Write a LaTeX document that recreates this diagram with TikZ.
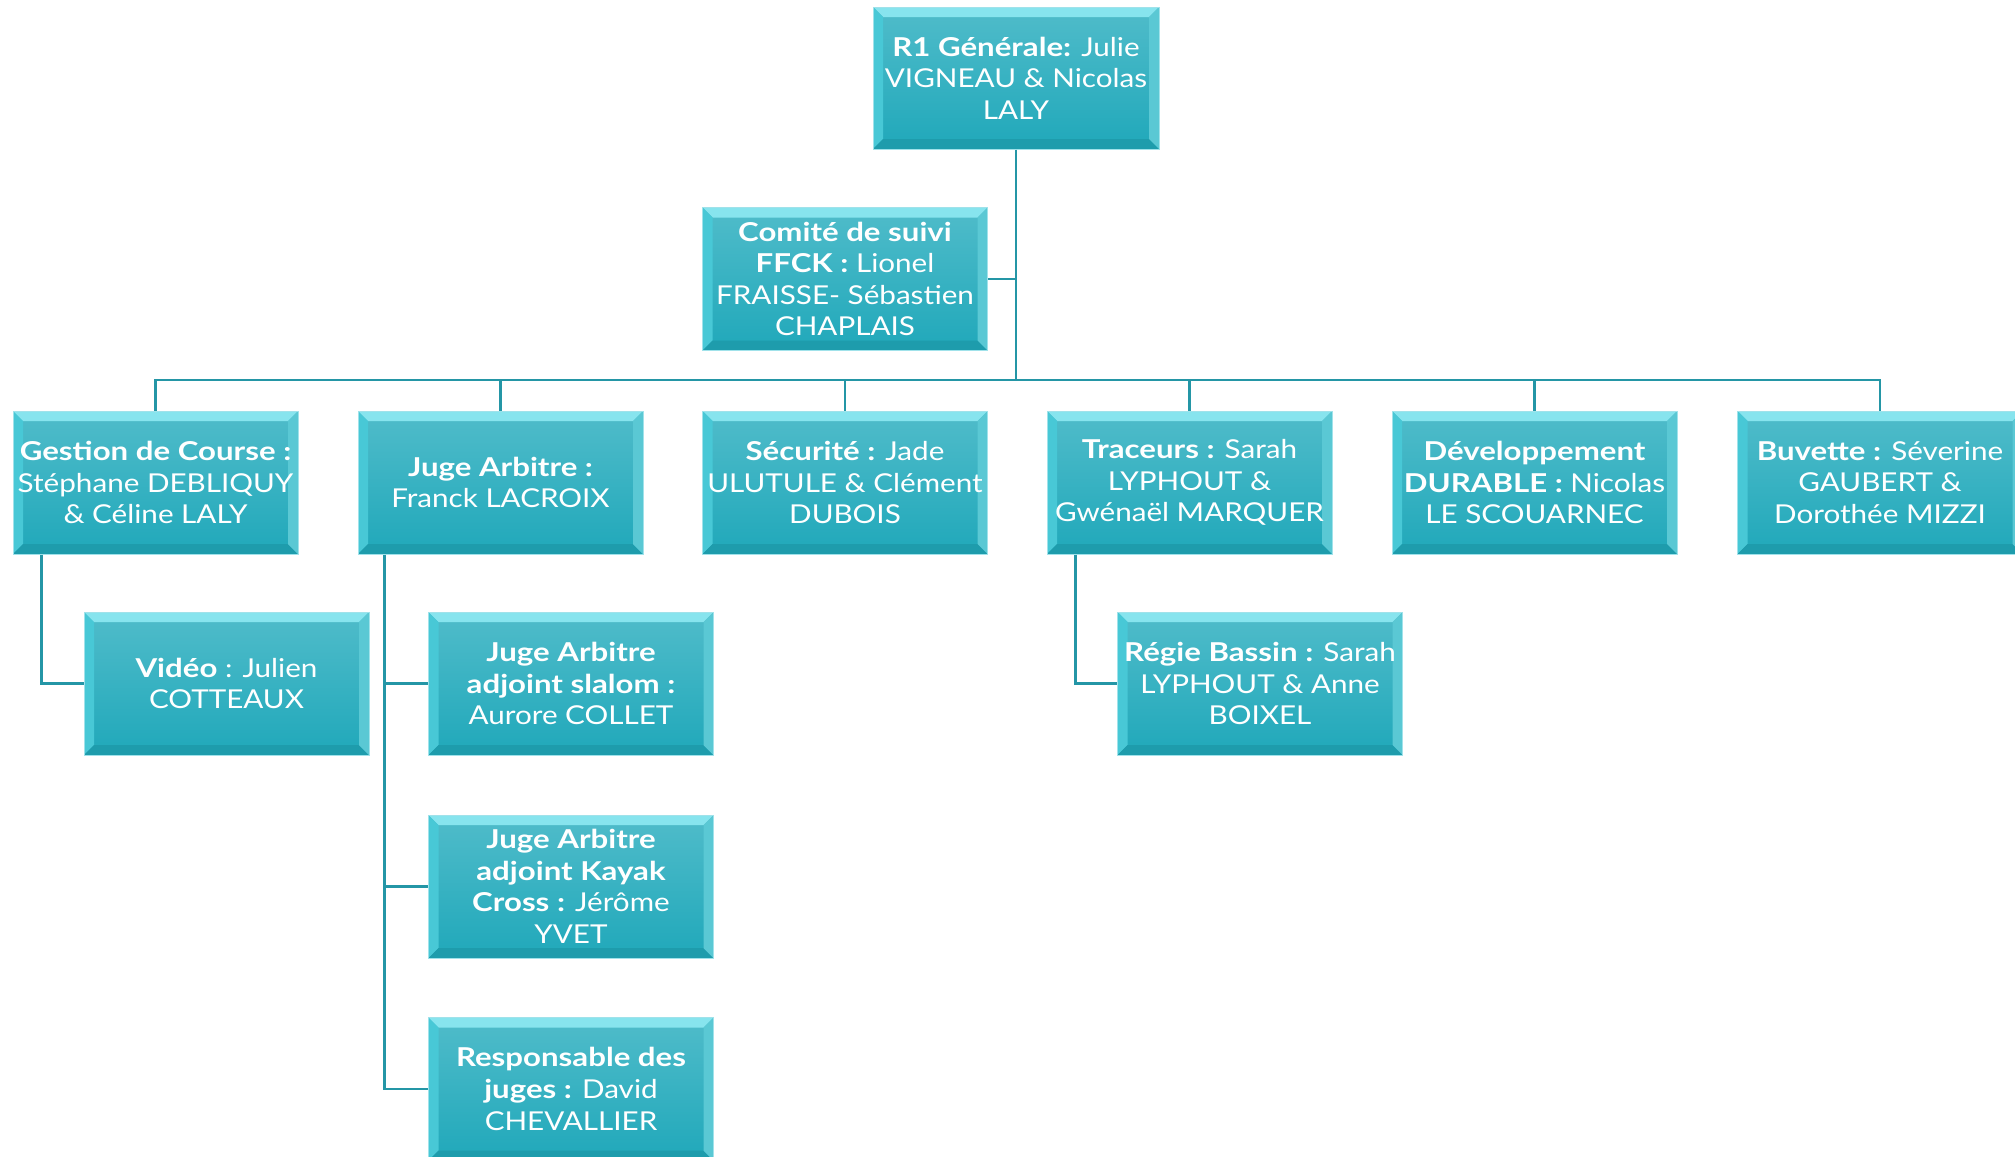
\documentclass[tikz,border=0pt]{standalone}
\usepackage{fontspec}
\setmainfont{Lato}[FakeStretch=1.14, BoldFeatures={FakeStretch=1.2}]
\usetikzlibrary{calc}
\definecolor{boxtop}{RGB}{80,188,202}
\definecolor{boxbot}{RGB}{32,168,186}
\definecolor{bevtop}{RGB}{135,228,238}
\definecolor{bevleft}{RGB}{72,200,214}
\definecolor{bevbot}{RGB}{30,156,172}
\definecolor{bevright}{RGB}{90,200,212}
\definecolor{boxedge}{RGB}{160,226,234}
\definecolor{conncol}{RGB}{36,150,166}
\newcommand{\boxfont}{\fontsize{13}{15.8}\selectfont}
\tikzset{
  orgbox/.style={rectangle, minimum width=142.5pt, minimum height=71.5pt, inner sep=0pt,
    text=white, align=center, font=\boxfont, top color=boxtop, bottom color=boxbot,
    draw=boxedge, line width=0.5pt,
    path picture={
      \coordinate (nw) at (path picture bounding box.north west);
      \coordinate (ne) at (path picture bounding box.north east);
      \coordinate (sw) at (path picture bounding box.south west);
      \coordinate (se) at (path picture bounding box.south east);
      \fill[bevtop] (nw) -- (ne) -- ([xshift=-5pt,yshift=-5pt]ne) -- ([xshift=5pt,yshift=-5pt]nw) -- cycle;
      \fill[bevleft] (nw) -- ([xshift=5pt,yshift=-5pt]nw) -- ([xshift=5pt,yshift=5pt]sw) -- (sw) -- cycle;
      \fill[bevbot] (sw) -- ([xshift=5pt,yshift=5pt]sw) -- ([xshift=-5pt,yshift=5pt]se) -- (se) -- cycle;
      \fill[bevright] (ne) -- (se) -- ([xshift=-5pt,yshift=5pt]se) -- ([xshift=-5pt,yshift=-5pt]ne) -- cycle;
    }},
  conn/.style={draw=conncol, line width=1.4pt}
}
\begin{document}
\begin{tikzpicture}[x=0.5pt,y=-0.5pt]
\useasboundingbox (0,0) rectangle (2015,1157);
% nodes
\node[orgbox, minimum width=143pt, minimum height=71pt] (top) at (1016,78) {\textbf{R1 Générale:} Julie\\VIGNEAU \& Nicolas\\LALY};
\node[orgbox] (comite) at (845,279) {\textbf{Comité de suivi}\\\textbf{FFCK :} Lionel\\FRAISSE- Sébastien\\CHAPLAIS};
\node[orgbox] (gestion) at (155.5,482.5) {\textbf{Gestion de Course :}\\Stéphane DEBLIQUY\\\& Céline LALY};
\node[orgbox] (juge) at (500.5,482.5) {\textbf{Juge Arbitre :}\\Franck LACROIX};
\node[orgbox] (secu) at (845,482.5) {\textbf{Sécurité :} Jade\\ULUTULE \& Clément\\DUBOIS};
\node[orgbox] (traceurs) at (1189.5,482.5) {\textbf{Traceurs :} Sarah\\LYPHOUT \&\\Gwénaël MARQUER};
\node[orgbox] (dev) at (1534.5,482.5) {\textbf{Développement}\\\textbf{DURABLE :} Nicolas\\LE SCOUARNEC};
\node[orgbox] (buvette) at (1880,482.5) {\textbf{Buvette :} Séverine\\GAUBERT \&\\Dorothée MIZZI};
\node[orgbox] (video) at (226.5,683.5) {\textbf{Vidéo} : Julien\\COTTEAUX};
\node[orgbox] (jas) at (571,683.5) {\textbf{Juge Arbitre}\\\textbf{adjoint slalom :}\\Aurore COLLET};
\node[orgbox] (jak) at (571,886.5) {\textbf{Juge Arbitre}\\\textbf{adjoint Kayak}\\\textbf{Cross :} Jérôme\\YVET};
\node[orgbox] (resp) at (571,1089) {\textbf{Responsable des}\\\textbf{juges :} David\\CHEVALLIER};
\node[orgbox] (regie) at (1260,683.5) {\textbf{Régie Bassin :} Sarah\\LYPHOUT \& Anne\\BOIXEL};
% connectors
\coordinate (bus) at (1016,380);
\draw[conn] (top.south) -- (bus);
\draw[conn] (comite.east) -- (comite.east -| top.south);
\draw[conn] (gestion.north) -- (gestion.north |- bus) -- (buvette.north |- bus) -- (buvette.north);
\foreach \n in {juge,secu,traceurs,dev}
  \draw[conn] (\n.north) -- (\n.north |- bus);
\coordinate (gline) at ($(gestion.south west)+(29,0)$);
\draw[conn] (gline) |- (video.west);
\coordinate (jline) at ($(juge.south west)+(27,0)$);
\draw[conn] (jline) |- (resp.west);
\draw[conn] (jas.west) -- (jas.west -| jline);
\draw[conn] (jak.west) -- (jak.west -| jline);
\coordinate (tline) at ($(traceurs.south west)+(29,0)$);
\draw[conn] (tline) |- (regie.west);
\end{tikzpicture}
\end{document}
